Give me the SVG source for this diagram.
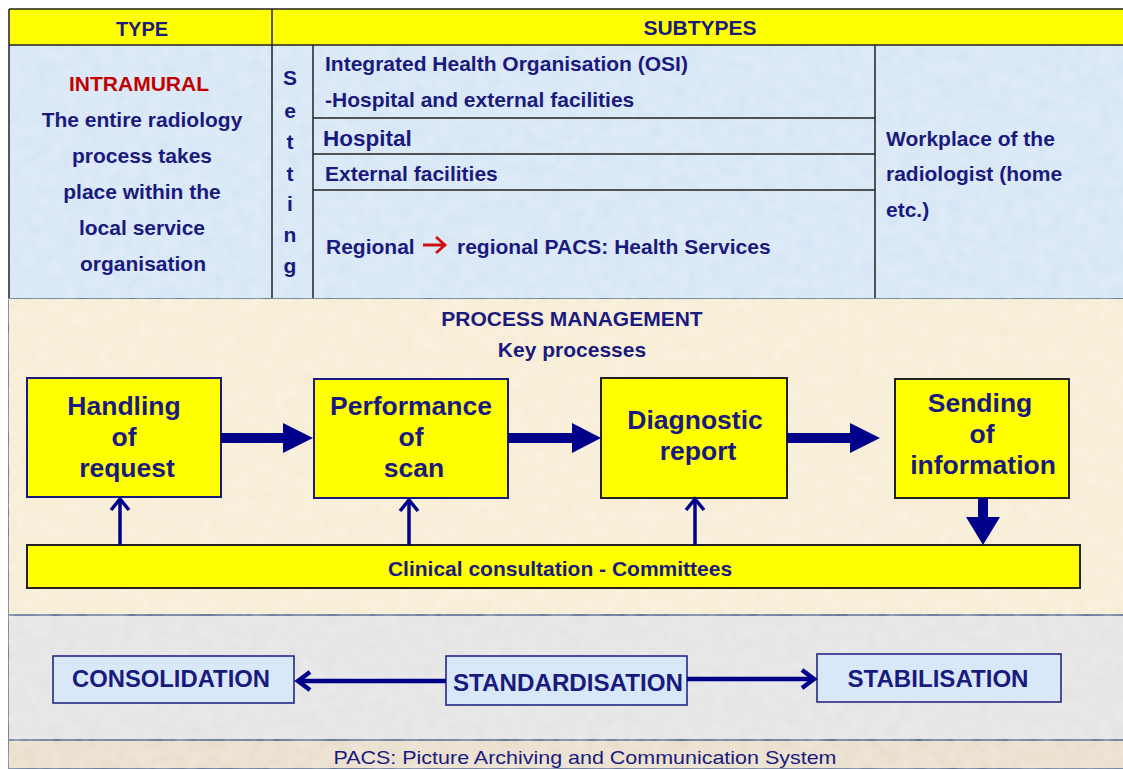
<svg xmlns="http://www.w3.org/2000/svg" width="1123" height="769" viewBox="0 0 1123 769">
<style>
text{font-family:"Liberation Sans",Arial,sans-serif;font-weight:bold;fill:#1a1a7e}
.t18{font-size:21px}
.t19{font-size:21px}
.box{font-size:26.5px;text-anchor:middle}
.c{text-anchor:middle}
.grid{stroke:#222;stroke-width:1.5;fill:none}
.pbox{fill:#ffff00;stroke:#1a1a7e;stroke-width:2}
.bbox{fill:#d9e8f8;stroke:#1a1a7e;stroke-width:1.5}
.thin{stroke:#00008b;stroke-width:3.5;fill:none}
.thin2{stroke:#00008b;stroke-width:4.5;fill:none}
.thick{fill:#00008b}
.lab{font-size:23px}
</style>
<defs>
<marker id="chev" markerWidth="22" markerHeight="22" refX="13" refY="11" orient="auto" markerUnits="userSpaceOnUse">
<path d="M2,2 L13,11 L2,20" fill="none" stroke="#00008b" stroke-width="3.5"/>
</marker>
<marker id="chev2" markerWidth="22" markerHeight="24" refX="14" refY="12" orient="auto" markerUnits="userSpaceOnUse">
<path d="M2,3 L14,12 L2,21" fill="none" stroke="#00008b" stroke-width="4.5"/>
</marker>
<filter id="tex" x="0" y="0" width="100%" height="100%">
<feTurbulence type="fractalNoise" baseFrequency="0.08" numOctaves="2" seed="3" result="n"/>
<feColorMatrix in="n" type="matrix" values="0 0 0 0 1  0 0 0 0 1  0 0 0 0 1  0 0 0 0.3 0" result="w"/>
<feComposite in="w" in2="SourceGraphic" operator="atop"/>
</filter>
</defs>
<rect width="1123" height="769" fill="#ffffff"/>
<!-- top table -->
<g id="table">
<rect x="9" y="45" width="1114" height="253" fill="#d4e4f5" filter="url(#tex)"/>
<rect x="9" y="9" width="1114" height="36" fill="#ffff00"/>
<path class="grid" d="M9,9 H1123 M9,45 H1123 M9,9 V298 M272,9 V298 M313,45 V298 M875,45 V298 M313,118 H875 M313,154 H875 M313,190 H875"/>
</g>
<g id="type-header"><text class="c" style="font-size:20px" x="142" y="36">TYPE</text></g>
<g id="subtypes-header"><text class="t18 c" x="700" y="35">SUBTYPES</text></g>
<g id="intramural">
<text class="t18 c" x="139" y="91" style="fill:#c00000">INTRAMURAL</text>
<text class="t19 c" x="142" y="127">The entire radiology</text>
<text class="t19 c" x="142" y="163">process takes</text>
<text class="t19 c" x="142" y="199">place within the</text>
<text class="t19 c" x="142" y="235">local service</text>
<text class="t19 c" x="143" y="271">organisation</text>
</g>
<g id="setting">
<text class="t18 c" x="290" y="85">S</text>
<text class="t18 c" x="290" y="118">e</text>
<text class="t18 c" x="290" y="149">t</text>
<text class="t18 c" x="290" y="181">t</text>
<text class="t18 c" x="290" y="211">i</text>
<text class="t18 c" x="290" y="242">n</text>
<text class="t18 c" x="290" y="273">g</text>
</g>
<g id="osi">
<text class="t18" x="325" y="71">Integrated Health Organisation (OSI)</text>
<text class="t18" x="325" y="107">-Hospital and external facilities</text>
</g>
<g id="hospital"><text x="323" y="146" style="font-size:22.5px">Hospital</text></g>
<g id="external"><text class="t18" x="325" y="181">External facilities</text></g>
<g id="regional">
<text class="t18" x="326" y="254">Regional</text>
<path d="M423,245 H444 M436,237 L445,245 L436,253" fill="none" stroke="#d01010" stroke-width="2.8"/>
<text class="t18" x="457" y="254">regional PACS: Health Services</text>
</g>
<g id="workplace">
<text class="t18" x="886" y="146">Workplace of the</text>
<text class="t18" x="886" y="181">radiologist (home</text>
<text class="t18" x="886" y="217">etc.)</text>
</g>
<!-- process management -->
<g id="process-section">
<rect x="8" y="298" width="1116" height="317" fill="#f7ecd2" filter="url(#tex)" stroke="#4a6890" stroke-width="2"/>
<text class="t19 c" x="572" y="326">PROCESS MANAGEMENT</text>
<text class="t19 c" x="572" y="357">Key processes</text>
</g>
<g id="handling">
<rect class="pbox" x="27" y="378" width="194" height="119"/>
<text class="box" x="124" y="415">Handling</text>
<text class="box" x="124" y="446">of</text>
<text class="box" x="127" y="477">request</text>
</g>
<g id="performance">
<rect class="pbox" x="314" y="379" width="194" height="119"/>
<text class="box" x="411" y="415">Performance</text>
<text class="box" x="411" y="446">of</text>
<text class="box" x="414" y="477">scan</text>
</g>
<g id="diagnostic">
<rect class="pbox" x="601" y="378" width="186" height="120" style="stroke:#222"/>
<text class="box" x="695" y="429">Diagnostic</text>
<text class="box" x="698" y="460">report</text>
</g>
<g id="sending">
<rect class="pbox" x="895" y="379" width="174" height="119" style="stroke:#222"/>
<text class="box" x="980" y="412">Sending</text>
<text class="box" x="982" y="443">of</text>
<text class="box" x="983" y="474">information</text>
</g>
<g id="clinical">
<rect class="pbox" x="27" y="545" width="1053" height="43" style="stroke:#222"/>
<text class="t19 c" x="560" y="576">Clinical consultation - Committees</text>
</g>
<!-- standardisation section -->
<g id="strategy-section">
<rect x="8" y="615" width="1116" height="125" fill="#e2e2e2" filter="url(#tex)" stroke="#4a6890" stroke-width="2"/>
</g>
<g id="consolidation">
<rect class="bbox" x="53" y="656" width="241" height="47"/>
<text class="c lab" x="171" y="687" textLength="198" lengthAdjust="spacingAndGlyphs">CONSOLIDATION</text>
</g>
<g id="standardisation">
<rect class="bbox" x="446" y="656" width="241" height="49"/>
<text class="c lab" x="568" y="691" textLength="230" lengthAdjust="spacingAndGlyphs">STANDARDISATION</text>
</g>
<g id="stabilisation">
<rect class="bbox" x="817" y="654" width="244" height="48"/>
<text class="c lab" x="938" y="687" textLength="181" lengthAdjust="spacingAndGlyphs">STABILISATION</text>
</g>
<g id="footer">
<rect x="8" y="740" width="1116" height="29" fill="#e8dcc8" filter="url(#tex)" stroke="#4a6890" stroke-width="2"/>
<text x="585" y="764" class="c" style="font-size:19px;font-weight:normal" textLength="503" lengthAdjust="spacingAndGlyphs">PACS: Picture Archiving and Communication System</text>
</g>
<!-- connectors -->
<g id="connectors">
<path class="thick" d="M221,433 H283 V423 L313,438 L283,453 V443 H221 Z"/>
<path class="thick" d="M508,433 H572 V423 L601,438 L572,453 V443 H508 Z"/>
<path class="thick" d="M787,433 H850 V423 L880,438 L850,453 V443 H787 Z"/>
<path class="thick" d="M978,498 H988 V517 H1000 L983,545 L966,517 H978 Z"/>
<path class="thin" d="M120,545 V499" marker-end="url(#chev)"/>
<path class="thin" d="M409,545 V500" marker-end="url(#chev)"/>
<path class="thin" d="M695,545 V499" marker-end="url(#chev)"/>
<path class="thin2" d="M446,681 H298" marker-end="url(#chev2)"/>
<path class="thin2" d="M687,679 H814" marker-end="url(#chev2)"/>
</g>
</svg>
